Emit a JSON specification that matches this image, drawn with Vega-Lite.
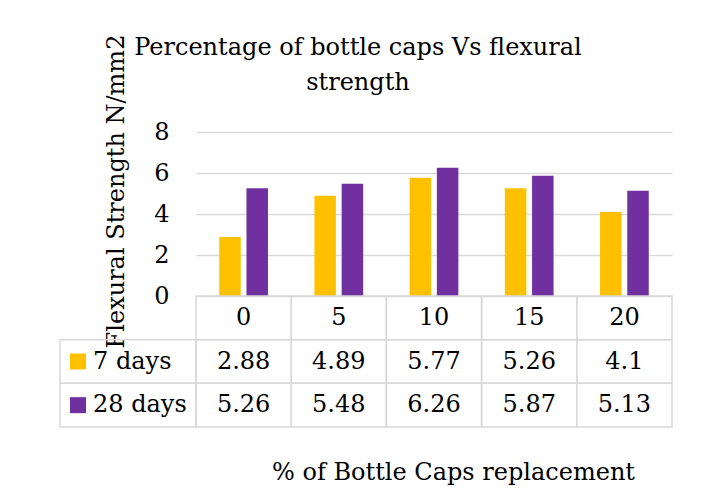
{
  "$schema": "https://vega.github.io/schema/vega-lite/v6.json",
  "background": "white",
  "padding": {"left": 59, "top": 34, "right": 10, "bottom": 5},
  "title": {
    "text": ["Percentage of bottle caps Vs flexural", "strength"],
    "font": "DejaVu Serif",
    "fontSize": 24,
    "fontWeight": "normal",
    "lineHeight": 35,
    "color": "black",
    "anchor": "middle",
    "frame": "bounds",
    "offset": -61,
    "dx": -8
  },
  "datasets": {
    "strength": [
      {"cat": "0", "series": "7 days", "value": 2.88},
      {"cat": "5", "series": "7 days", "value": 4.89},
      {"cat": "10", "series": "7 days", "value": 5.77},
      {"cat": "15", "series": "7 days", "value": 5.26},
      {"cat": "20", "series": "7 days", "value": 4.1},
      {"cat": "0", "series": "28 days", "value": 5.26},
      {"cat": "5", "series": "28 days", "value": 5.48},
      {"cat": "10", "series": "28 days", "value": 6.26},
      {"cat": "15", "series": "28 days", "value": 5.87},
      {"cat": "20", "series": "28 days", "value": 5.13}
    ]
  },
  "data": {"name": "strength"},
  "columns": 2,
  "spacing": 0,
  "align": "each",
  "bounds": "flush",
  "concat": [
    {
      "width": 136,
      "height": 164,
      "transform": [{"filter": "datum.cat === '0' && datum.series === '7 days'"}],
      "mark": {"type": "text"},
      "encoding": {"text": {"value": ""}}
    },
    {
      "width": 476,
      "height": 164,
      "mark": {"type": "bar"},
      "encoding": {
        "x": {
          "field": "cat",
          "type": "nominal",
          "sort": ["0", "5", "10", "15", "20"],
          "scale": {"paddingInner": 0.488, "paddingOuter": 0.244},
          "axis": null
        },
        "xOffset": {
          "field": "series",
          "type": "nominal",
          "sort": ["7 days", "28 days"],
          "scale": {"paddingInner": 0.21, "paddingOuter": 0}
        },
        "y": {
          "field": "value",
          "type": "quantitative",
          "scale": {"domain": [0, 8]},
          "axis": {
            "values": [0, 2, 4, 6, 8],
            "title": "Flexural Strength N/mm2",
            "grid": true,
            "gridColor": "#D9D9D9",
            "gridWidth": 1.5,
            "domain": false,
            "ticks": false,
            "labelPadding": 27,
            "labelFont": "DejaVu Serif",
            "labelFontSize": 24,
            "labelColor": "black",
            "titleFont": "DejaVu Serif",
            "titleFontSize": 24,
            "titleFontWeight": "normal",
            "titleColor": "black",
            "titleY": 59,
            "titlePadding": 25
          }
        },
        "color": {
          "field": "series",
          "type": "nominal",
          "scale": {"domain": ["7 days", "28 days"], "range": ["#FFC000", "#7030A0"]},
          "legend": null
        }
      }
    },
    {
      "width": 136,
      "height": 131,
      "transform": [{"filter": "datum.cat === '0'"}],
      "encoding": {
        "y": {
          "field": "series",
          "type": "nominal",
          "scale": {"domain": ["header", "7 days", "28 days"], "paddingInner": 0, "paddingOuter": 0},
          "axis": null
        }
      },
      "layer": [
        {
          "mark": {"type": "rect", "filled": false, "color": "#D9D9D9", "strokeWidth": 1.5}
        },
        {
          "mark": {"type": "point", "shape": "square", "size": 256, "filled": true, "opacity": 1, "xOffset": -50},
          "encoding": {
            "color": {
              "field": "series",
              "type": "nominal",
              "scale": {"domain": ["7 days", "28 days"], "range": ["#FFC000", "#7030A0"]},
              "legend": null
            }
          }
        },
        {
          "mark": {"type": "text", "align": "left", "baseline": "middle", "dx": -35, "font": "DejaVu Serif", "fontSize": 24, "color": "black"},
          "encoding": {"text": {"field": "series", "type": "nominal"}}
        }
      ]
    },
    {
      "width": 476,
      "height": 131,
      "encoding": {
        "x": {
          "field": "cat",
          "type": "nominal",
          "sort": ["0", "5", "10", "15", "20"],
          "scale": {"paddingInner": 0, "paddingOuter": 0},
          "axis": {
            "title": "% of Bottle Caps replacement",
            "labels": false,
            "ticks": false,
            "domain": false,
            "titleFont": "DejaVu Serif",
            "titleFontSize": 24,
            "titleFontWeight": "normal",
            "titleColor": "black",
            "titlePadding": 33,
            "titleX": 257
          }
        }
      },
      "layer": [
        {
          "transform": [{"filter": "datum.series === '7 days'"}],
          "mark": {"type": "rect", "filled": false, "color": "#D9D9D9", "strokeWidth": 1.5},
          "encoding": {
            "y": {"datum": "header", "type": "nominal", "scale": {"domain": ["header", "7 days", "28 days"], "paddingInner": 0, "paddingOuter": 0}, "axis": null}
          }
        },
        {
          "mark": {"type": "rect", "filled": false, "color": "#D9D9D9", "strokeWidth": 1.5},
          "encoding": {
            "y": {"field": "series", "type": "nominal", "axis": null}
          }
        },
        {
          "transform": [{"filter": "datum.series === '7 days'"}],
          "mark": {"type": "text", "baseline": "middle", "font": "DejaVu Serif", "fontSize": 24, "color": "black"},
          "encoding": {
            "y": {"datum": "header", "type": "nominal", "axis": null},
            "text": {"field": "cat", "type": "nominal"}
          }
        },
        {
          "mark": {"type": "text", "baseline": "middle", "font": "DejaVu Serif", "fontSize": 24, "color": "black"},
          "encoding": {
            "y": {"field": "series", "type": "nominal", "axis": null},
            "text": {"field": "value", "type": "nominal"}
          }
        }
      ]
    }
  ],
  "config": {
    "view": {"stroke": null},
    "font": "DejaVu Serif"
  }
}
